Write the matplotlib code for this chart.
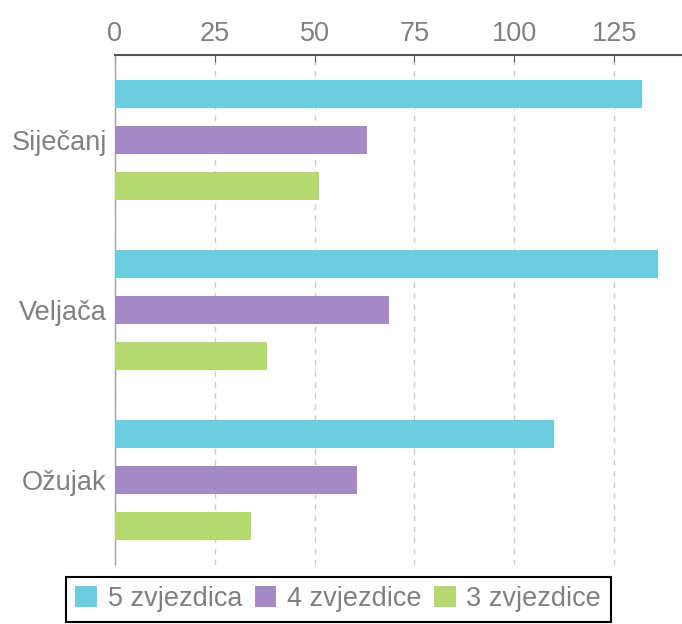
import matplotlib
matplotlib.use("Agg")
import matplotlib.pyplot as plt
import numpy as np

plt.rcParams['font.family'] = ['Liberation Sans', 'DejaVu Sans']

months = ["Siječanj", "Veljača", "Ožujak"]
series_names = ["5 zvjezdica", "4 zvjezdice", "3 zvjezdice"]
five_stars = [132, 136, 110]
four_stars = [63, 68.5, 60.5]
three_stars = [51, 38, 34]
ticks = [0, 25, 50, 75, 100, 125]

colors = ["#6dcde0", "#a58bc6", "#b6d870"]
txt = "#808080"

fig = plt.figure(figsize=(6.82, 6.24), dpi=100)
ax = fig.add_axes([115 / 682, 1 - 565 / 624, 1 - 115 / 682, (565 - 55) / 624])

y = np.arange(len(months))
off = 46 / 170
h = 28 / 170
for i, (vals, name) in enumerate(zip([five_stars, four_stars, three_stars], series_names)):
    ax.barh(y + (i - 1) * off, vals, height=h, color=colors[i], label=name, zorder=3)

ax.set_xlim(0, 142)
ax.set_ylim(2.5, -0.5)
ax.set_xticks(ticks)
ax.set_yticks(y)
ax.set_yticklabels(months)
ax.xaxis.tick_top()
ax.tick_params(axis='x', direction='in', length=5, color="#555555", labelsize=19.5,
               labelcolor=txt, pad=6)
ax.tick_params(axis='y', length=0, labelsize=19.5, labelcolor=txt, pad=6)
ax.grid(axis='x', color="#c8ccd0", linestyle=(0, (4, 4)), linewidth=1, zorder=0)

for s in ['right', 'bottom']:
    ax.spines[s].set_visible(False)
ax.spines['top'].set_color("#555555")
ax.spines['top'].set_linewidth(1.5)
ax.spines['left'].set_color("#a0a0a0")
ax.spines['left'].set_linewidth(1)

leg = fig.legend(loc='lower center', bbox_to_anchor=(0.496, 0.004), ncol=3,
                 fontsize=19.5, frameon=True, fancybox=False, edgecolor='black',
                 framealpha=1, handlelength=0.8, handleheight=0.8, handletextpad=0.4,
                 columnspacing=0.45, borderpad=0.35, borderaxespad=0)
leg.get_frame().set_linewidth(1.5)
for t in leg.get_texts():
    t.set_color(txt)

fig.savefig("out.png", dpi=100)
